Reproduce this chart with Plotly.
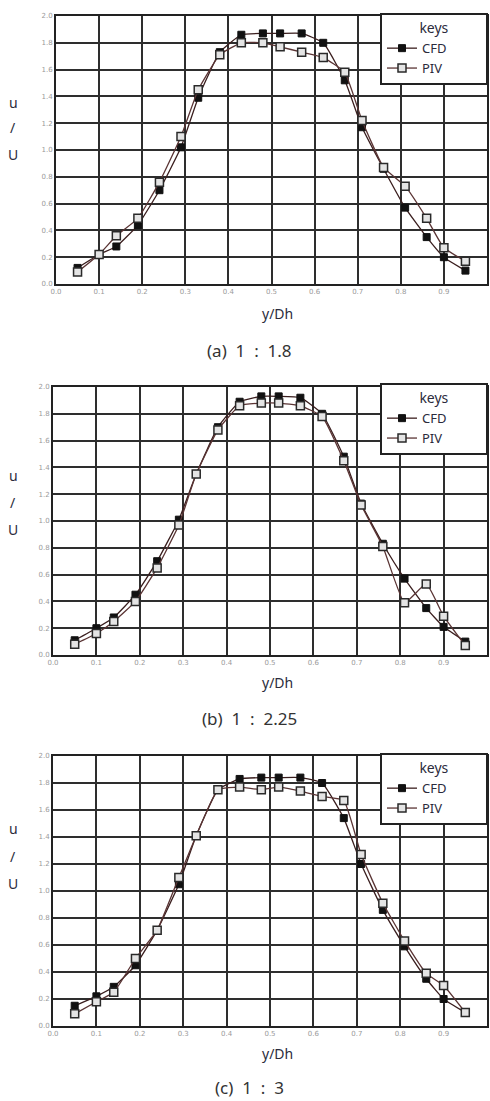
import plotly.graph_objects as go

W, H = 490, 1101

# ---------------- data ----------------
y_dh = [0.05, 0.10, 0.14, 0.19, 0.24, 0.29, 0.33, 0.38, 0.43, 0.48,
        0.52, 0.57, 0.62, 0.67, 0.71, 0.76, 0.81, 0.86, 0.90, 0.95]

cfd_a = [0.12, 0.22, 0.28, 0.44, 0.70, 1.02, 1.39, 1.73, 1.86, 1.87,
         1.87, 1.87, 1.80, 1.52, 1.17, 0.86, 0.57, 0.35, 0.20, 0.10]
piv_a = [0.09, 0.22, 0.36, 0.49, 0.76, 1.10, 1.45, 1.71, 1.80, 1.80,
         1.77, 1.73, 1.69, 1.58, 1.22, 0.87, 0.73, 0.49, 0.27, 0.17]

cfd_b = [0.11, 0.20, 0.28, 0.45, 0.70, 1.01, 1.35, 1.70, 1.89, 1.93,
         1.93, 1.92, 1.80, 1.48, 1.13, 0.83, 0.57, 0.35, 0.21, 0.10]
piv_b = [0.08, 0.16, 0.25, 0.40, 0.65, 0.97, 1.35, 1.68, 1.86, 1.88,
         1.88, 1.86, 1.78, 1.45, 1.12, 0.81, 0.39, 0.53, 0.29, 0.07]

cfd_c = [0.15, 0.22, 0.29, 0.45, 0.71, 1.05, 1.41, 1.75, 1.83, 1.84,
         1.84, 1.84, 1.80, 1.54, 1.20, 0.86, 0.59, 0.35, 0.20, 0.10]
piv_c = [0.09, 0.18, 0.25, 0.50, 0.71, 1.10, 1.41, 1.75, 1.77, 1.75,
         1.77, 1.74, 1.70, 1.67, 1.27, 0.91, 0.63, 0.39, 0.30, 0.10]

captions = ["(a)  1  :  1.8", "(b)  1  :  2.25", "(c)  1  :  3"]
legend_title = "keys"
series_names = ["CFD", "PIV"]
x_title = "y/Dh"
y_title_parts = ["u", "/", "U"]

panels = [(cfd_a, piv_a), (cfd_b, piv_b), (cfd_c, piv_c)]

# ---------------- layout geometry (pixels) ----------------
# (left, right, top, bottom) of each plot area
boxes = [(56, 487, 16, 284), (53, 487, 387, 655), (53, 487, 756, 1026)]
legend_top = [13, 383, 753]
ylab_y = [(102, 128, 155), (475, 502, 529), (828, 856, 883)]
xlab_y = [313, 683, 1053]
cap_y = [350, 718, 1087]

PAD = "\u00a0" * 10  # invisible padding to widen the legend box


def px(x):
    return x / W


def py(y):
    return 1 - y / H


fig = go.Figure()

grid_col = "#2e2e2e"
text_col = "#2b2b3c"

for i, (cfd, piv) in enumerate(panels):
    n = "" if i == 0 else str(i + 1)
    xa, ya = "x" + n, "y" + n
    lg = "legend" + n
    fig.add_trace(go.Scatter(
        x=y_dh, y=cfd, name=series_names[0] + PAD, mode="lines+markers",
        xaxis=xa, yaxis=ya, legend=lg,
        line=dict(color="#3a1e1e", width=1.3, shape="spline", smoothing=0.4),
        marker=dict(symbol="square", size=7, color="#111111",
                    line=dict(color="#111111", width=1)),
    ))
    fig.add_trace(go.Scatter(
        x=y_dh, y=piv, name=series_names[1] + PAD, mode="lines+markers",
        xaxis=xa, yaxis=ya, legend=lg,
        line=dict(color="#5a3434", width=1.3, shape="spline", smoothing=0.4),
        marker=dict(symbol="square", size=8, color="#e4e4e4",
                    line=dict(color="#2a2a2a", width=1.5)),
    ))

    l, r, t, b = boxes[i]
    common = dict(showgrid=True, gridcolor=grid_col, gridwidth=2,
                  showline=True, linecolor="#222222", linewidth=2, mirror=True,
                  zeroline=False, ticks="", automargin=False,
                  tickfont=dict(family="DejaVu Sans", size=7, color="#9a9a9a"))
    fig.update_layout({
        "xaxis" + n: dict(domain=[px(l), px(r)], range=[0, 1], dtick=0.1,
                          tick0=0, tickformat=".1f", anchor=ya, **common),
        "yaxis" + n: dict(domain=[py(b), py(t)], range=[0, 2], dtick=0.2,
                          tick0=0, tickformat=".1f", anchor=xa, **common),
        lg: dict(x=px(488), y=py(legend_top[i]), xanchor="right", yanchor="top",
                 bgcolor="white", bordercolor="#222222", borderwidth=2,
                 font=dict(family="Noto Sans", size=13, color=text_col),
                 title=dict(text=legend_title, side="top center",
                            font=dict(family="Noto Sans", size=14, color=text_col)),
                 itemwidth=30, tracegroupgap=0),
    })

    for yy, txt in zip(ylab_y[i], y_title_parts):
        fig.add_annotation(x=px(13), y=py(yy), xref="paper", yref="paper",
                           xanchor="center", yanchor="middle",
                           text=txt, showarrow=False,
                           font=dict(family="Noto Sans", size=14, color=text_col))
    fig.add_annotation(x=px(277), y=py(xlab_y[i]), xref="paper", yref="paper",
                       xanchor="center", yanchor="middle",
                       text=x_title, showarrow=False,
                       font=dict(family="Noto Sans", size=14, color=text_col))
    fig.add_annotation(x=px(249), y=py(cap_y[i]), xref="paper", yref="paper",
                       xanchor="center", yanchor="middle",
                       text=captions[i], showarrow=False,
                       font=dict(family="Noto Sans", size=17, color="#333333"))

fig.update_layout(width=W, height=H,
                  margin=dict(l=0, r=0, t=0, b=0, autoexpand=False),
                  paper_bgcolor="white", plot_bgcolor="white",
                  showlegend=True)

fig.write_html("out.html",
               config={"displayModeBar": False},
               post_script="document.body.style.margin='0';"
                           "document.body.style.overflow='hidden';")
